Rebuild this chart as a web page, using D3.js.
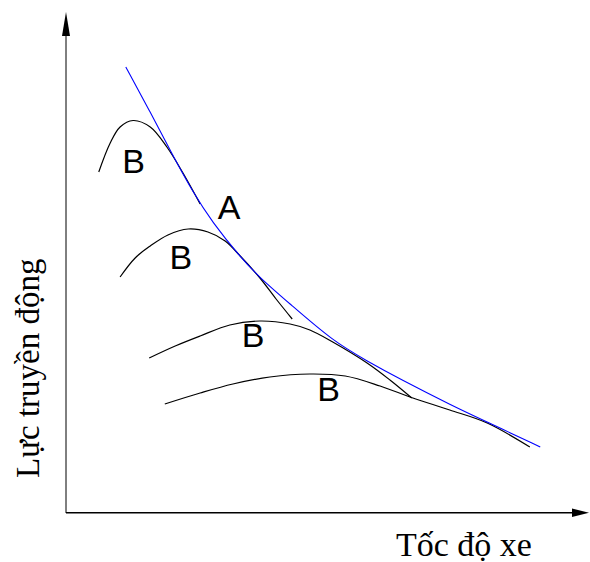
<!DOCTYPE html>
<html>
<head>
<meta charset="utf-8">
<script src="https://cdn.jsdelivr.net/npm/d3@7"></script>
<style>
  html, body { margin: 0; padding: 0; background: #fff; }
  svg { display: block; }
</style>
</head>
<body>
<svg id="chart" width="590" height="562"></svg>
<script>
// ---- data (speed on x, tractive force on y; arbitrary units 0..100) ----
const envelopeX = [11.5, 16.2, 20.6, 24.4, 28.1, 33.5, 37.3, 43.1, 51.3, 57.9, 64.2, 74.4, 81.0, 91.2];
const envelopeY = [89.2, 80.2, 71.4, 64.2, 58.2, 51.2, 47.0, 41.8, 34.4, 30.4, 26.8, 21.4, 18.2, 13.2];

const gear1X = [6.3, 8.5, 10.4, 12.9, 16.2, 19.4, 22.5, 25.8];
const gear1Y = [68.2, 74.0, 77.2, 78.5, 77.2, 73.2, 68.0, 61.8];

const gear2X = [10.4, 13.3, 16.2, 19.6, 23.5, 27.3, 30.6, 33.5, 37.3, 40.4, 43.5];
const gear2Y = [47.2, 51.0, 53.4, 55.6, 56.8, 56.2, 54.4, 51.4, 47.0, 42.8, 38.8];

const gear3X = [16.0, 21.0, 25.8, 31.5, 37.3, 43.1, 46.9, 51.3, 57.9, 62.3, 66.5];
const gear3Y = [31.0, 33.4, 35.4, 37.6, 38.4, 37.8, 36.6, 34.2, 30.0, 26.6, 23.0];

const gear4X = [19.0, 25.8, 32.1, 39.2, 46.9, 53.7, 60.4, 66.7, 73.8, 81.0, 89.2];
const gear4Y = [21.8, 24.0, 25.8, 27.2, 27.8, 27.4, 25.4, 23.0, 20.6, 18.0, 13.2];

const labelText = ["B", "A", "B", "B", "B"];
const labelX = [10.8, 29.2, 19.9, 33.8, 48.3];
const labelY = [68.1, 58.9, 48.9, 33.3, 22.5];

const xTitle = "Tốc độ xe";
const yTitle = "Lực truyền động";

// ---- chart ----
const svg = d3.select("#chart");
const x = d3.scaleLinear().domain([0, 100]).range([66, 586]);
const y = d3.scaleLinear().domain([0, 100]).range([513, 13]);

const zip = (a, b) => a.map((v, i) => [v, b[i]]);

const gearLine = d3.line()
  .x(d => x(d[0]))
  .y(d => y(d[1]))
  .curve(d3.curveCatmullRom.alpha(0.5));

const envLine = d3.line()
  .x(d => x(d[0]))
  .y(d => y(d[1]))
  .curve(d3.curveBasis);

// axes
const x0 = x(0), y0 = y(0);
svg.append("line")
  .attr("x1", x0).attr("x2", x0)
  .attr("y1", y0).attr("y2", y(100) + 23)
  .attr("stroke", "#000").attr("stroke-width", 1);
svg.append("path")
  .attr("d", `M${x0},${y(100) - 1} L${x0 - 4},${y(100) + 23} L${x0 + 4},${y(100) + 23} Z`)
  .attr("fill", "#000");

svg.append("line")
  .attr("x1", x0).attr("x2", x(100) - 14)
  .attr("y1", y0 - 0.3).attr("y2", y0 - 0.3)
  .attr("stroke", "#000").attr("stroke-width", 1.5);
svg.append("path")
  .attr("d", `M${x(100) + 3},${y0 - 0.3} L${x(100) - 14},${y0 - 4.5} L${x(100) - 14},${y0 + 4} Z`)
  .attr("fill", "#000");

// gear curves
const gears = [zip(gear1X, gear1Y), zip(gear2X, gear2Y), zip(gear3X, gear3Y), zip(gear4X, gear4Y)];
svg.selectAll("path.gear").data(gears).enter().append("path")
  .attr("class", "gear")
  .attr("d", gearLine)
  .attr("fill", "none")
  .attr("stroke", "#000")
  .attr("stroke-width", 1.2);

// envelope
const env = zip(envelopeX, envelopeY);
svg.append("path")
  .datum([env[0], ...env, env[env.length - 1]])
  .attr("d", envLine)
  .attr("fill", "none")
  .attr("stroke", "#0000ff")
  .attr("stroke-width", 1.1);

// labels
svg.selectAll("text.lbl").data(labelText).enter().append("text")
  .attr("class", "lbl")
  .attr("x", (d, i) => x(labelX[i]))
  .attr("y", (d, i) => y(labelY[i]))
  .attr("font-family", "'Liberation Sans', Arial, sans-serif")
  .attr("font-size", 34)
  .attr("fill", "#000")
  .text(d => d);

// axis titles
svg.append("text")
  .attr("x", 396).attr("y", 555.5)
  .attr("font-family", "'Liberation Serif', 'Times New Roman', serif")
  .attr("font-size", 34)
  .attr("fill", "#000")
  .text(xTitle);

svg.append("text")
  .attr("transform", "translate(39,478) rotate(-90)")
  .attr("font-family", "'Liberation Serif', 'Times New Roman', serif")
  .attr("font-size", 33)
  .attr("fill", "#000")
  .text(yTitle);
</script>
</body>
</html>
